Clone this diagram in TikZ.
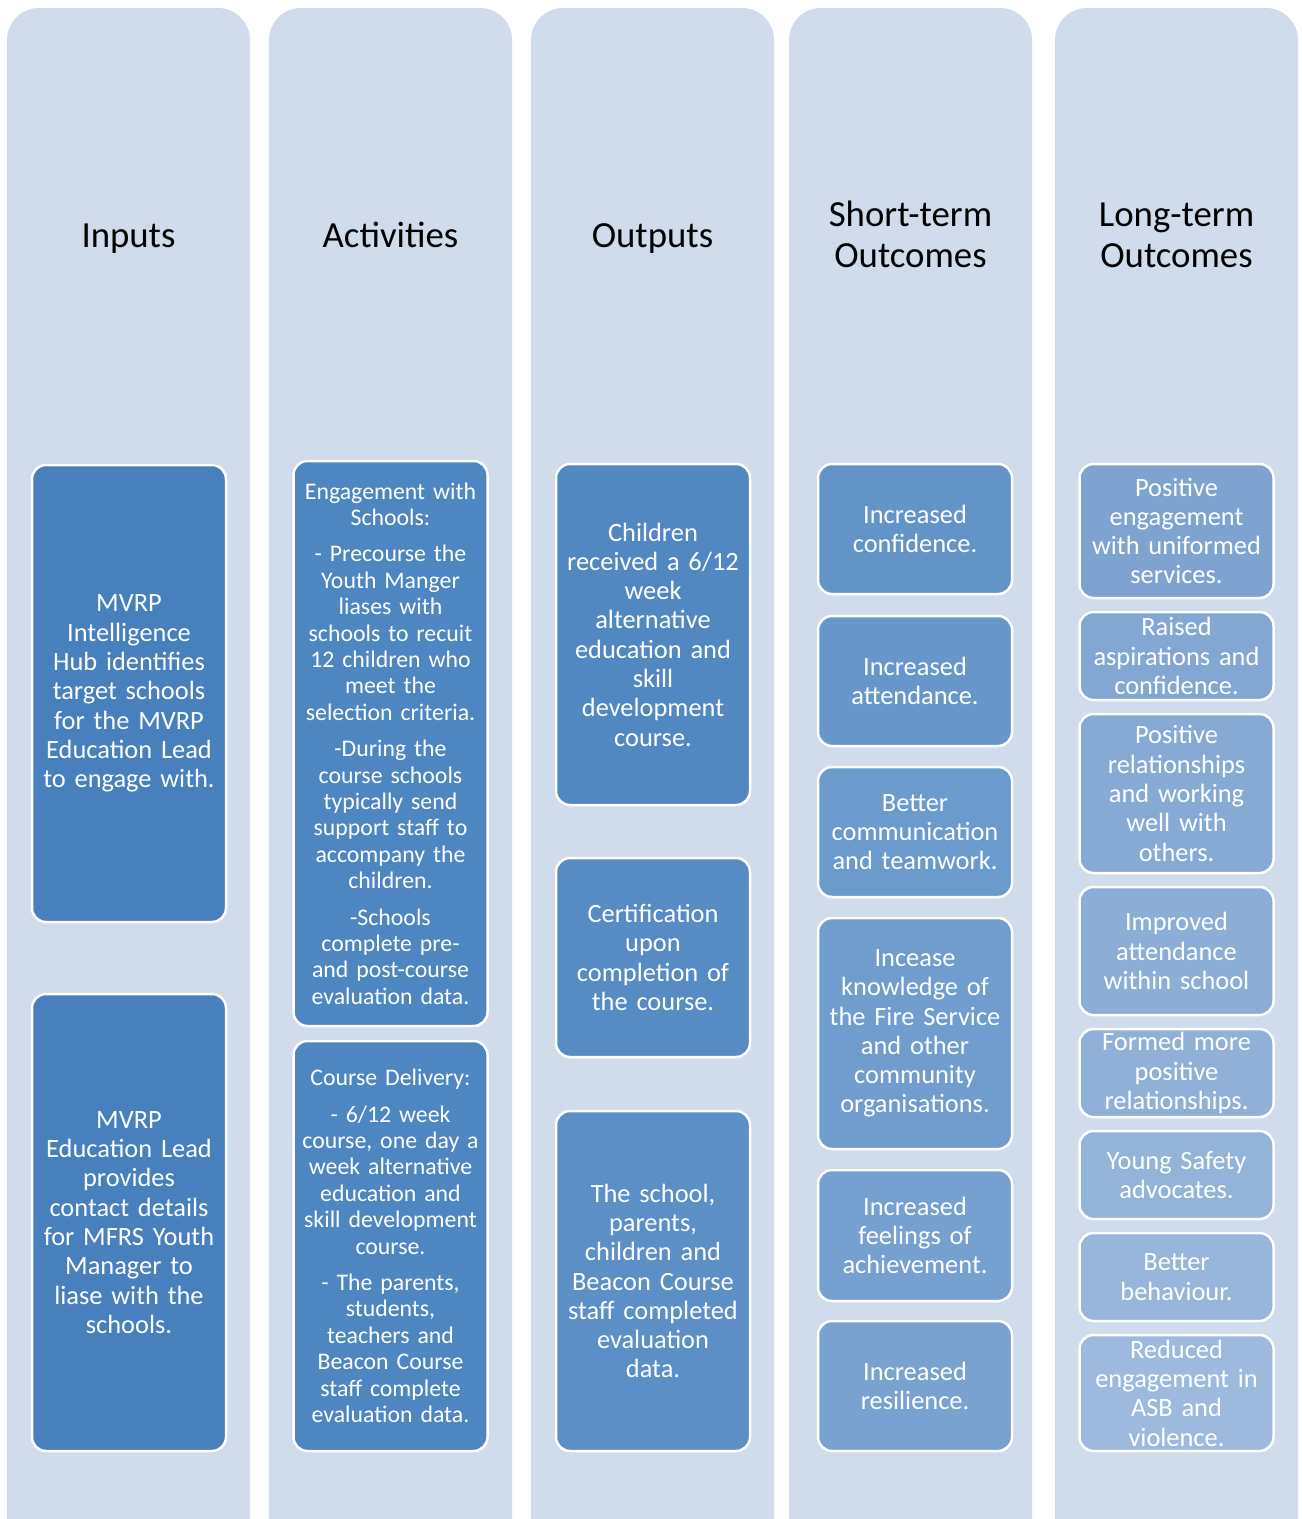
\documentclass[tikz,border=0pt]{standalone}
\usepackage{fontspec}
\setmainfont{Carlito}
\definecolor{colbg}{HTML}{D0DCEB}
\definecolor{inA}{HTML}{4780BC}
\definecolor{acA}{HTML}{4D86C0}
\definecolor{ouA}{HTML}{5288C2}
\definecolor{ouB}{HTML}{578BC4}
\definecolor{ouC}{HTML}{5C8FC6}
\definecolor{stA}{HTML}{6394C8}
\definecolor{stB}{HTML}{6797CA}
\definecolor{stC}{HTML}{6B9ACC}
\definecolor{stD}{HTML}{709DCD}
\definecolor{stE}{HTML}{75A0CF}
\definecolor{stF}{HTML}{7AA2D0}
\definecolor{ltA}{HTML}{7FA3D1}
\definecolor{ltB}{HTML}{83A7D3}
\definecolor{ltC}{HTML}{87AAD5}
\definecolor{ltD}{HTML}{8BADD6}
\definecolor{ltE}{HTML}{90B0D8}
\definecolor{ltF}{HTML}{94B3D9}
\definecolor{ltG}{HTML}{98B6DB}
\definecolor{ltH}{HTML}{9DB9DD}

\tikzset{
  column/.style={fill=colbg, rounded corners=16pt},
  head/.style={align=center, font=\fontsize{18.4}{20.5}\selectfont},
  box/.style={draw=white, line width=1.25pt, rounded corners=7pt, text=white,
    align=center, inner sep=0pt, text width=92pt, minimum width=97pt,
    font=\fontsize{13.2}{14.65}\selectfont},
  smallbox/.style={box, font=\fontsize{11.9}{13.2}\selectfont}
}

\begin{document}
\begin{tikzpicture}[x=0.5pt,y=-0.5pt]
  \useasboundingbox (0,0) rectangle (1301,1519);
  \clip (0,0) rectangle (1301,1519);

  % columns
  \foreach \l/\r in {7/250,269/512,531/774,789/1032,1055/1298}
    \fill[column] (\l,8) rectangle (\r,1600);

  \node[head] (inputs) at (128.5,239) {\strut Inputs};
  \node[head] (activities) at (390.5,239) {\strut Activities};
  \node[head] (outputs) at (652.5,239) {\strut Outputs};
  \node[head] (shortterm) at (910.5,239) {\strut Short-term\\\strut Outcomes};
  \node[head] (longterm) at (1176.5,239) {\strut Long-term\\\strut Outcomes};

  % inputs
  \node[box, fill=inA, minimum height=228.5pt] (in1) at (129,693.5)
    {MVRP\\Intelligence\\Hub identifies\\target schools\\for the MVRP\\Education Lead\\to engage with.};
  \node[box, fill=inA, minimum height=228.5pt] (in2) at (129,1222.5)
    {MVRP\\Education Lead\\provides\\contact details\\for MFRS Youth\\Manager to\\liase with the\\schools.};

  % activities
  \node[smallbox, fill=acA, minimum height=282.5pt] (ac1) at (390.5,743.5)
    {Engagement with\\Schools:\\[5pt]
     - Precourse the\\Youth Manger\\liases with\\schools to recuit\\12 children who\\meet the\\selection criteria.\\[5pt]
     -During the\\course schools\\typically send\\support staff to\\accompany the\\children.\\[5pt]
     -Schools\\complete pre-\\and post-course\\evaluation data.};
  \node[smallbox, fill=acA, minimum height=205pt] (ac2) at (390.5,1246)
    {Course Delivery:\\[5pt]
     - 6/12 week\\course, one day a\\week alternative\\education and\\skill development\\course.\\[5pt]
     - The parents,\\students,\\teachers and\\Beacon Course\\staff complete\\evaluation data.};

  % outputs
  \node[box, fill=ouA, minimum height=170.5pt] (ou1) at (653,634.5)
    {Children\\received a 6/12\\week\\alternative\\education and\\skill\\development\\course.};
  \node[box, fill=ouB, minimum height=99.5pt] (ou2) at (653,957.5)
    {Certification\\upon\\completion of\\the course.};
  \node[box, fill=ouC, minimum height=170pt] (ou3) at (653,1281)
    {The school,\\parents,\\children and\\Beacon Course\\staff completed\\evaluation\\data.};

  % short-term outcomes
  \node[box, fill=stA, minimum height=65pt] (st1) at (915,529) {Increased\\confidence.};
  \node[box, fill=stB, minimum height=65pt] (st2) at (915,681) {Increased\\attendance.};
  \node[box, fill=stC, minimum height=65pt] (st3) at (915,832) {Better\\communication\\and teamwork.};
  \node[box, fill=stD, minimum height=115.5pt] (st4) at (915,1033.5)
    {Incease\\knowledge of\\the Fire Service\\and other\\community\\organisations.};
  \node[box, fill=stE, minimum height=65.5pt] (st5) at (915,1235.5) {Increased\\feelings of\\achievement.};
  \node[box, fill=stF, minimum height=65pt] (st6) at (915,1386) {Increased\\resilience.};

  % long-term outcomes
  \node[box, fill=ltA, minimum height=67pt] (lt1) at (1176.5,531)
    {Positive\\engagement\\with uniformed\\services.};
  \node[box, fill=ltB, minimum height=44pt] (lt2) at (1176.5,656)
    {Raised\\aspirations and\\confidence.};
  \node[box, fill=ltC, minimum height=79.5pt] (lt3) at (1176.5,793.5)
    {Positive\\relationships\\and working\\well with\\others.};
  \node[box, fill=ltD, minimum height=64pt] (lt4) at (1176.5,951)
    {Improved\\attendance\\within school};
  \node[box, fill=ltE, minimum height=44pt] (lt5) at (1176.5,1073)
    {Formed more\\positive\\relationships.};
  \node[box, fill=ltF, minimum height=44pt] (lt6) at (1176.5,1175)
    {Young Safety\\advocates.};
  \node[box, fill=ltG, minimum height=44pt] (lt7) at (1176.5,1277)
    {Better\\behaviour.};
  \node[box, fill=ltH, minimum height=58pt] (lt8) at (1176.5,1393)
    {Reduced\\engagement in\\ASB and\\violence.};
\end{tikzpicture}
\end{document}
